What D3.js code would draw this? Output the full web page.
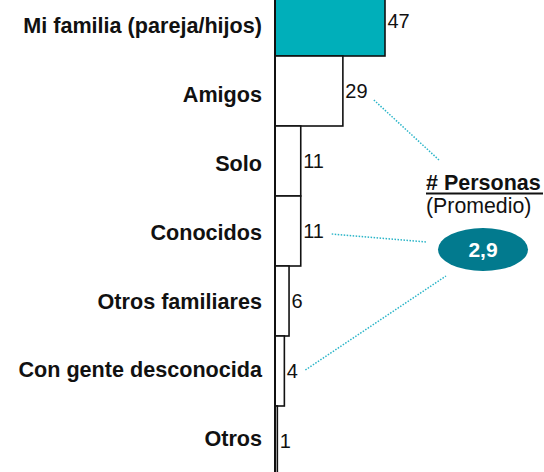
<!DOCTYPE html>
<html>
<head>
<meta charset="utf-8">
<script src="https://cdn.jsdelivr.net/npm/d3@7"></script>
<style>
  body { margin: 0; background: #fff; }
  svg { display: block; font-family: Arial, "Liberation Sans", sans-serif; }
</style>
</head>
<body>
<div id="chart"></div>
<script>
// categories and values (% de respuestas)
var categories = ["Mi familia (pareja/hijos)", "Amigos", "Solo", "Conocidos",
                  "Otros familiares", "Con gente desconocida", "Otros"];
var values = [47, 29, 11, 11, 6, 4, 1];
var highlight = "Mi familia (pareja/hijos)";
var promedio = "2,9";

var width = 544, height = 472;
var x0 = 275;

var svg = d3.select("#chart").append("svg")
  .attr("width", width)
  .attr("height", height);

var x = d3.scaleLinear().domain([0, 47]).range([x0, 385]);
var y = d3.scaleBand().domain(categories).range([-14, 476]).padding(0);
// the category labels sit on a slightly tighter grid than the bars
var yLab = d3.scaleBand().domain(categories).range([-8.6, 473]).padding(0);

var data = categories.map(function(c, i) { return { cat: c, val: values[i] }; });

// bars
svg.selectAll(".bar")
  .data(data)
  .enter().append("rect")
  .attr("class", "bar")
  .attr("x", x(0))
  .attr("y", function(d) { return y(d.cat); })
  .attr("width", function(d) { return x(d.val) - x(0); })
  .attr("height", y.bandwidth())
  .attr("fill", function(d) { return d.cat === highlight ? "#00AFBA" : "#fff"; })
  .attr("stroke", "#111")
  .attr("stroke-width", 1.6);

// axis line
svg.append("line")
  .attr("x1", x0).attr("x2", x0)
  .attr("y1", 0).attr("y2", height)
  .attr("stroke", "#111")
  .attr("stroke-width", 2);

// category labels
svg.selectAll(".cat")
  .data(data)
  .enter().append("text")
  .attr("class", "cat")
  .attr("x", 262)
  .attr("y", function(d) { return yLab(d.cat) + yLab.bandwidth() / 2; })
  .attr("dy", "0.35em")
  .attr("text-anchor", "end")
  .attr("font-weight", "bold")
  .attr("font-size", 21.6)
  .attr("fill", "#111")
  .text(function(d) { return d.cat; });

// value labels
svg.selectAll(".val")
  .data(data)
  .enter().append("text")
  .attr("class", "val")
  .attr("x", function(d) { return x(d.val) + 2.5; })
  .attr("y", function(d) { return y(d.cat) + y.bandwidth() / 2; })
  .attr("dy", "0.35em")
  .attr("font-size", 20)
  .attr("fill", "#111")
  .text(function(d) { return d.val; });

// dotted connectors to the average
var links = [
  { from: "Amigos", to: [439, 160], dx: 31, dy: 9 },
  { from: "Conocidos", to: [426, 242], dx: 31, dy: 3 },
  { from: "Con gente desconocida", to: [446, 276], dx: 21, dy: -1 }
];
svg.selectAll(".link")
  .data(links)
  .enter().append("line")
  .attr("class", "link")
  .attr("x1", function(d) { return x(values[categories.indexOf(d.from)]) + d.dx; })
  .attr("y1", function(d) { return y(d.from) + y.bandwidth() / 2 + d.dy; })
  .attr("x2", function(d) { return d.to[0]; })
  .attr("y2", function(d) { return d.to[1]; })
  .attr("stroke", "#2BB5C8")
  .attr("stroke-width", 1.5)
  .attr("stroke-dasharray", "1.5,1.5");

// average annotation
svg.append("text")
  .attr("x", 426).attr("y", 190)
  .attr("font-size", 21.5).attr("font-weight", "bold")
  .attr("fill", "#111")
  .text("# Personas");
svg.append("line")
  .attr("x1", 426).attr("x2", 543)
  .attr("y1", 193.5).attr("y2", 193.5)
  .attr("stroke", "#111").attr("stroke-width", 2);
svg.append("text")
  .attr("x", 426).attr("y", 213)
  .attr("font-size", 21.3)
  .attr("fill", "#111")
  .text("(Promedio)");

svg.append("ellipse")
  .attr("cx", 483).attr("cy", 249.5)
  .attr("rx", 45).attr("ry", 21.5)
  .attr("fill", "#027A8E");
svg.append("text")
  .attr("x", 483).attr("y", 249.5)
  .attr("dy", "0.35em")
  .attr("text-anchor", "middle")
  .attr("font-size", 21).attr("font-weight", "bold")
  .attr("fill", "#fff")
  .text(promedio);
</script>
</body>
</html>
